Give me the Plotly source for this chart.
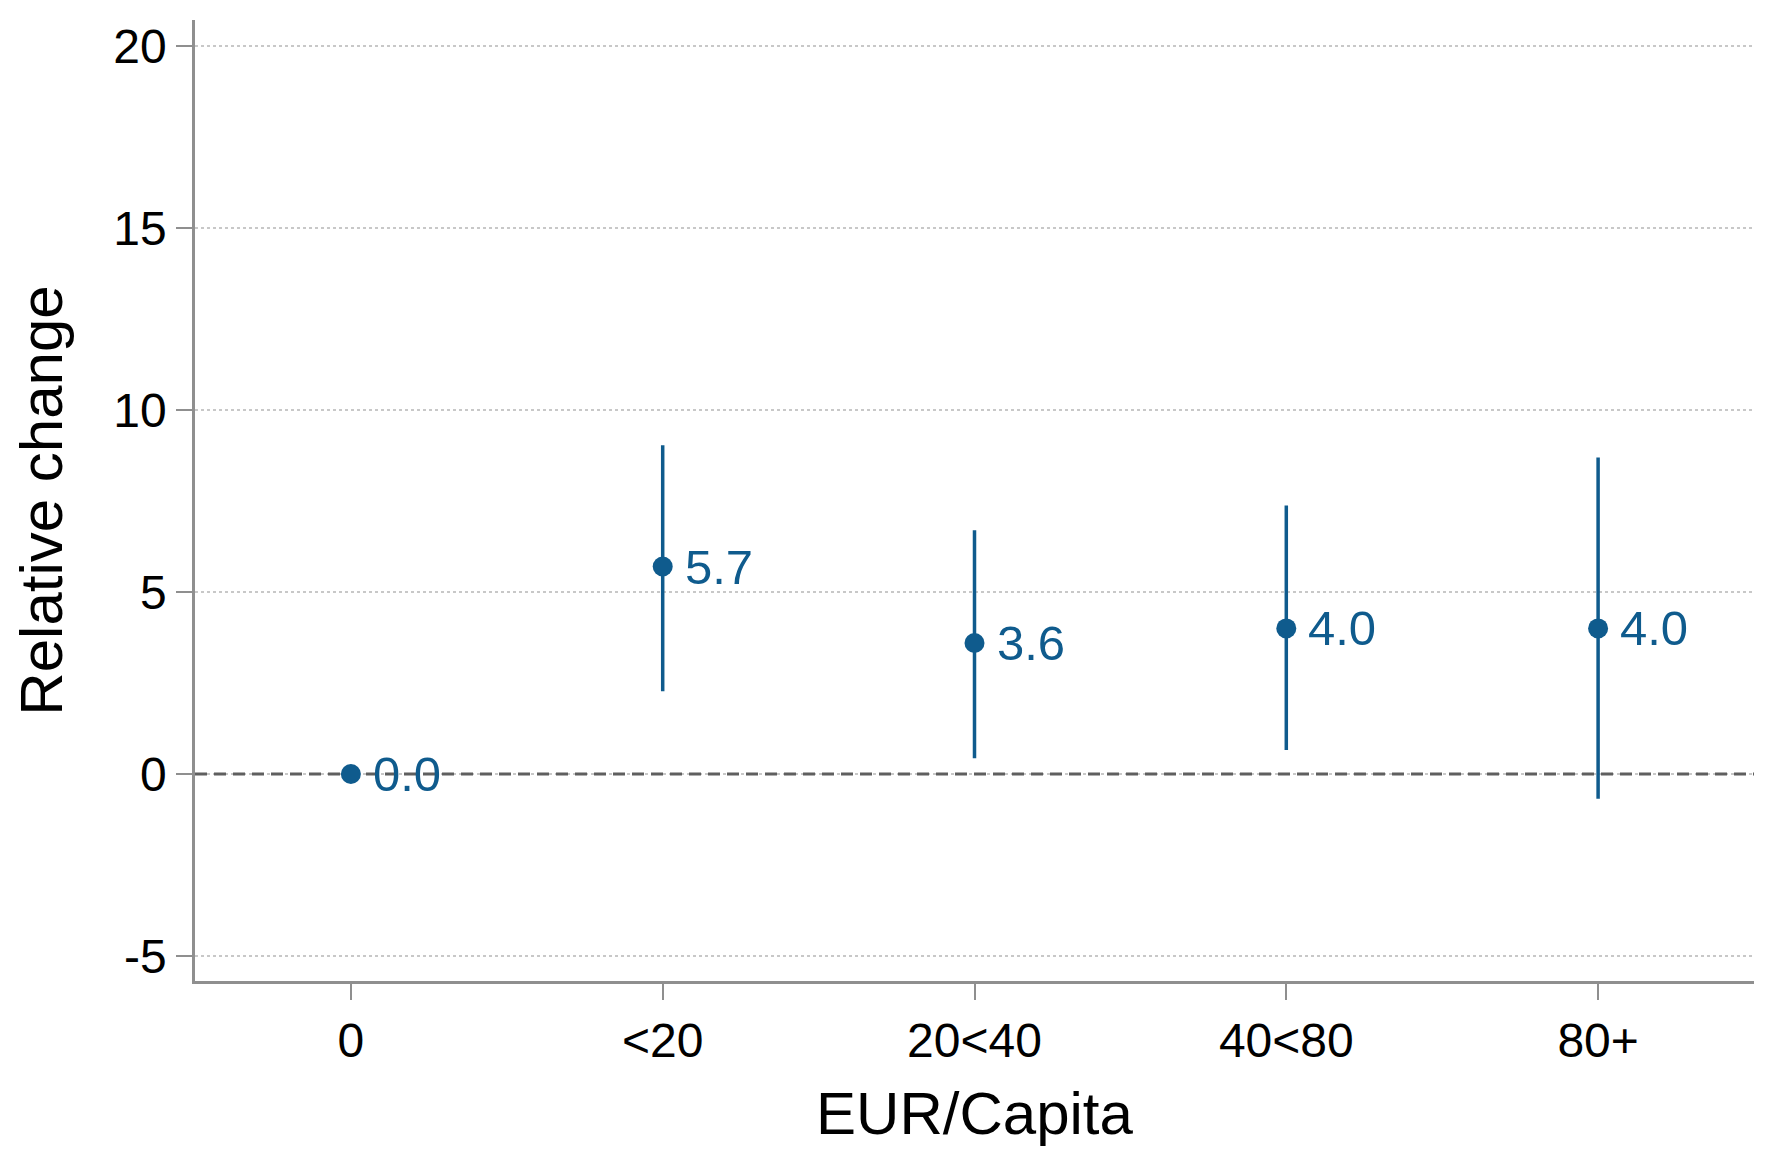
import plotly.graph_objects as go

categories = ["0", "<20", "20<40", "40<80", "80+"]
estimates = [0.0, 5.7, 3.6, 4.0, 4.0]
ci_upper = [0.0, 9.03, 6.70, 7.38, 8.70]
ci_lower = [0.0, 2.27, 0.43, 0.66, -0.68]
y_ticks = [-5, 0, 5, 10, 15, 20]
y_tick_labels = ["-5", "0", "5", "10", "15", "20"]
reference_value = 0

BLUE = "#0f5b8d"
AXIS = "#8f8f8f"
FONT = "Liberation Sans, Arial, sans-serif"

xs = list(range(len(categories)))
x_range = [-0.5, len(categories) - 0.5]
err_plus = [u - e for u, e in zip(ci_upper, estimates)]
err_minus = [e - l for e, l in zip(estimates, ci_lower)]

fig = go.Figure()
fig.add_trace(go.Scatter(
    x=x_range, y=[reference_value, reference_value], mode="lines",
    line=dict(color="#5f5f5f", width=3, dash="12px,7px"),
    showlegend=False, hoverinfo="skip",
))
fig.add_trace(go.Scatter(
    x=xs, y=estimates, mode="markers",
    marker=dict(color=BLUE, size=20),
    error_y=dict(type="data", symmetric=False, array=err_plus, arrayminus=err_minus,
                 color=BLUE, thickness=3.5, width=0),
    showlegend=False, cliponaxis=False,
))

for x, e in zip(xs, estimates):
    fig.add_annotation(x=x, y=e, text=f"{e:.1f}", showarrow=False,
                       xanchor="left", yanchor="middle", xshift=20, yshift=0,
                       font=dict(family=FONT, size=49, color=BLUE))

fig.update_layout(
    width=1750, height=1143,
    margin=dict(l=187, r=4, t=12, b=170),
    plot_bgcolor="white", paper_bgcolor="white",
    font=dict(family=FONT, color="black"),
    xaxis=dict(
        range=x_range, tickmode="array", tickvals=xs, ticktext=categories,
        showgrid=False, zeroline=False,
        showline=True, linecolor=AXIS, linewidth=2.5,
        ticks="outside", ticklen=16, tickwidth=2, tickcolor=AXIS,
        tickfont=dict(size=48, family=FONT, color="black"),
        title=dict(text="EUR/Capita", font=dict(size=60, family=FONT, color="black"), standoff=26),
    ),
    yaxis=dict(
        range=[-5.69, 20.72], tickmode="array", tickvals=y_ticks, ticktext=y_tick_labels,
        showgrid=True, gridcolor="#c8c8c8", gridwidth=1.5, griddash="dot",
        zeroline=False,
        showline=True, linecolor=AXIS, linewidth=2.5,
        ticks="outside", ticklen=16, tickwidth=2, tickcolor=AXIS,
        tickfont=dict(size=48, family=FONT, color="black"),
        title=dict(text="Relative change", font=dict(size=60, family=FONT, color="black"), standoff=38),
    ),
)

fig.write_html("out.html")
